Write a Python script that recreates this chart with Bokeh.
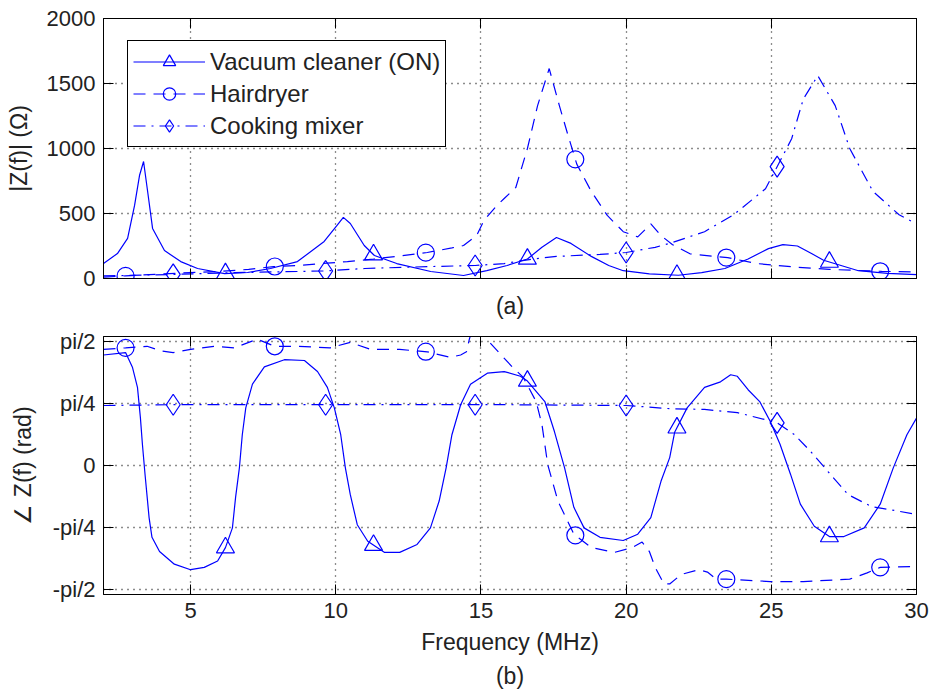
import numpy as np
from bokeh.plotting import figure
from bokeh.models import Range1d, LinearAxis, FixedTicker, Legend, LegendItem, Title
from bokeh.layouts import column
from bokeh.embed import file_html
from bokeh.resources import INLINE

# ---------------- data ----------------
series_names = ["Vacuum cleaner (ON)", "Hairdryer", "Cooking mixer"]
x_ticks = [5, 10, 15, 20, 25, 30]
mag_ticks = [0, 500, 1000, 1500, 2000]
phase_ticks = [-np.pi / 2, -np.pi / 4, 0.0, np.pi / 4, np.pi / 2]
phase_tick_labels = ["-pi/2", "-pi/4", "0", "pi/4", "pi/2"]

# |Z(f)| (ohm)
vac_mag_f = [2.0, 2.48, 2.83, 3.07, 3.24, 3.38, 3.52, 3.69, 4.1, 4.66,
             5.24, 6.17, 6.96, 7.75, 8.68, 9.6, 10.05, 10.26, 10.5, 10.98,
             11.33, 12.1, 13.27, 14.4, 15.2, 15.9, 16.6, 17.1, 17.6, 18.1,
             18.8, 19.4, 19.9, 20.8, 21.8, 22.6, 23.4, 24.2, 24.9, 25.4,
             25.9, 26.4, 26.8, 27.4, 28.0, 29.0, 30.0]
vac_mag = [115, 192, 308, 562, 792, 900, 669, 385, 215, 130,
           77, 38, 46, 77, 130, 285, 410, 470, 423, 254,
           177, 115, 54, 23, 60, 100, 150, 240, 315, 270,
           170, 100, 60, 35, 25, 45, 77, 150, 230, 260,
           250, 190, 140, 100, 60, 40, 30]

hair_mag_f = [2.0, 2.76, 4.0, 5.0, 6.0, 7.0, 7.86, 8.7, 9.5, 10.4,
              11.3, 12.1, 13.15, 14.0, 14.4, 14.85, 15.1, 15.55, 15.8, 16.2,
              16.6, 16.95, 17.35, 17.7, 18.0, 18.3, 18.8, 19.35, 19.9, 20.4,
              20.85, 21.2, 21.6, 22.2, 23.5, 24.5, 25.7, 27.0, 28.8, 30.0]
hair_mag = [10, 20, 35, 45, 55, 70, 92, 100, 115, 130,
            150, 170, 200, 235, 254, 330, 446, 562, 615, 700,
            1000, 1330, 1615, 1330, 1100, 880, 670, 485, 360, 320,
            420, 330, 260, 190, 160, 115, 90, 70, 55, 50]

cook_mag_f = [2.0, 4.38, 6.5, 8.68, 9.65, 11.0, 13.27, 14.8, 15.8, 16.8,
              17.6, 19.1, 20.0, 21.0, 21.5, 22.7, 23.7, 24.8, 25.2, 25.7,
              26.1, 26.6, 27.2, 27.7, 28.5, 29.4, 30.0]
cook_mag = [20, 31, 45, 54, 58, 77, 92, 100, 115, 150,
            170, 185, 200, 240, 270, 360, 490, 690, 860, 1075,
            1380, 1560, 1330, 1000, 670, 490, 420]

# angle Z(f) (rad)
vac_ph_f = [2.0, 2.76, 3.0, 3.17, 3.27, 3.34, 3.43, 3.57, 3.67, 3.93,
            4.44, 5.0, 5.47, 5.93, 6.2, 6.44, 6.55, 6.68, 6.78, 6.9,
            7.13, 7.54, 8.23, 8.92, 9.37, 9.71, 9.95, 10.17, 10.33, 10.5,
            10.74, 11.1, 11.67, 12.2, 12.8, 13.26, 13.56, 13.8, 14.0, 14.3,
            14.64, 15.22, 15.8, 16.36, 16.6, 17.2, 17.53, 17.88, 18.2, 18.55,
            19.1, 19.9, 20.4, 20.85, 21.2, 21.5, 21.67, 22.1, 22.7, 23.25,
            23.6, 23.83, 24.2, 24.6, 24.96, 25.3, 25.66, 26.0, 26.48, 27.0,
            27.5, 28.2, 28.75, 29.2, 29.67, 30.0]
vac_ph = [1.40, 1.43, 1.24, 0.99, 0.61, 0.27, -0.11, -0.66, -0.91, -1.09,
          -1.25, -1.32, -1.29, -1.21, -1.04, -0.79, -0.40, -0.03, 0.39, 0.73,
          1.03, 1.25, 1.34, 1.33, 1.19, 0.99, 0.73, 0.39, -0.03, -0.37,
          -0.75, -0.96, -1.10, -1.10, -1.00, -0.79, -0.45, -0.03, 0.39, 0.77,
          1.03, 1.17, 1.19, 1.13, 1.07, 0.81, 0.43, -0.03, -0.53, -0.79,
          -0.91, -0.95, -0.87, -0.66, -0.20, 0.10, 0.42, 0.73, 0.99, 1.06,
          1.15, 1.13, 0.96, 0.81, 0.56, 0.27, -0.11, -0.49, -0.77, -0.90,
          -0.90, -0.79, -0.49, -0.03, 0.39, 0.60]

hair_ph_f = [2.0, 2.76, 3.5, 4.0, 4.4, 5.0, 5.8, 6.5, 7.3, 7.9,
             8.7, 9.8, 10.5, 11.2, 12.2, 13.15, 13.95, 14.3, 14.5, 14.6,
             14.85, 15.2, 15.67, 16.1, 16.45, 16.9, 17.1, 17.3, 17.65, 18.2,
             18.8, 19.6, 20.2, 20.55, 20.8, 21.0, 21.3, 21.5, 21.9, 22.5,
             22.8, 23.1, 23.45, 24.96, 26.1, 27.7, 28.3, 28.75, 30.0]
hair_ph = [1.47, 1.49, 1.51, 1.45, 1.43, 1.47, 1.51, 1.49, 1.60, 1.51,
           1.51, 1.49, 1.56, 1.47, 1.47, 1.44, 1.37, 1.40, 1.44, 1.60,
           1.90, 1.60, 1.41, 1.24, 1.12, 0.81, 0.52, 0.01, -0.45, -0.87,
           -1.04, -1.10, -1.04, -0.97, -1.09, -1.29, -1.50, -1.50, -1.38, -1.32,
           -1.35, -1.44, -1.44, -1.47, -1.47, -1.44, -1.36, -1.29, -1.28]

cook_ph_f = [2.0, 4.4, 8.0, 12.0, 16.0, 20.0, 20.4, 21.5, 22.7, 23.83,
             24.8, 25.2, 25.8, 26.35, 26.96, 27.65, 28.45, 29.1, 30.0]
cook_ph = [0.76, 0.77, 0.77, 0.77, 0.77, 0.76, 0.75, 0.72, 0.71, 0.67,
           0.58, 0.54, 0.39, 0.18, -0.08, -0.37, -0.52, -0.56, -0.62]

# marker frequencies (MATLAB draws markers at sparse samples)
vac_marker_f = [6.2, 11.3, 16.6, 21.75, 27.0]
hair_marker_f = [2.76, 7.9, 13.1, 18.25, 23.45, 28.75]
cook_marker_f = [4.4, 9.65, 14.8, 20.0, 25.2]

# ---------------- styling ----------------
FONT = "Liberation Sans"
TICK_FS = "22px"
LABEL_FS = "23px"
TXT = "#222222"
BLUE = "#0000ff"
LW = 1.2
STYLES = [
    dict(dash="solid", marker="triangle", size=18),
    dict(dash="12 8", marker="circle", size=17),
    dict(dash="12 6 2 6", marker="diamond", size=21),
]


def hide_labels(ax):
    ax.major_label_text_font_size = "1px"
    ax.major_label_text_color = None
    ax.major_label_standoff = 0


def make_fig(y0, y1, yticks, frame_h, ylabel, **borders):
    p = figure(frame_width=813, frame_height=frame_h,
               x_range=Range1d(2, 30), y_range=Range1d(y0, y1),
               output_backend="svg", toolbar_location=None, **borders)
    p.background_fill_color = "white"
    p.border_fill_color = "white"
    p.outline_line_color = "black"
    p.outline_line_width = 1
    p.outline_line_alpha = 1
    xb = p.below[0]
    yl = p.left[0]
    xb.ticker = FixedTicker(ticks=x_ticks)
    yl.ticker = FixedTicker(ticks=yticks)
    for ax in (xb, yl):
        ax.axis_line_color = "black"
        ax.major_tick_line_color = "black"
        ax.major_tick_in = 10
        ax.major_tick_out = 0
        ax.minor_tick_line_color = None
        ax.major_label_text_font = FONT
        ax.major_label_text_font_size = TICK_FS
        ax.major_label_text_color = TXT
        ax.axis_label_text_font = FONT
        ax.axis_label_text_font_size = LABEL_FS
        ax.axis_label_text_font_style = "normal"
        ax.axis_label_text_color = TXT
    yl.axis_label = ylabel
    yl.major_label_standoff = 8
    for g in (p.xgrid, p.ygrid):
        g.grid_line_color = "black"
        g.grid_line_dash = "1 5"
        g.grid_line_width = 1.3
        g.grid_line_alpha = 0.9
    p.xgrid.ticker = FixedTicker(ticks=x_ticks)
    p.ygrid.ticker = FixedTicker(ticks=yticks)
    for side, tk in (("above", x_ticks), ("right", yticks)):
        ax = LinearAxis(ticker=FixedTicker(ticks=tk))
        hide_labels(ax)
        ax.major_tick_in = 10
        ax.major_tick_out = 0
        ax.minor_tick_line_color = None
        ax.axis_line_color = "black"
        p.add_layout(ax, side)
    return p, xb, yl


def draw(p, fx, fy, mx, st):
    r_line = p.line(fx, fy, line_color=BLUE, line_width=LW, line_dash=st["dash"])
    my = np.interp(mx, fx, fy)
    r_mk = p.scatter(mx, my, marker=st["marker"], size=st["size"],
                     line_color=BLUE, line_width=LW, fill_color=None)
    return [r_line, r_mk]


# ---------------- top: magnitude ----------------
p1, xb1, yl1 = make_fig(0, 2000, mag_ticks, 260, "|Z(f)| (Ω)",
                        min_border_left=103, min_border_right=14,
                        min_border_top=18, min_border_bottom=46)
hide_labels(xb1)
xb1.axis_label = "(a)"
xb1.axis_label_standoff = 14
yl1.axis_label_standoff = 12

mag_sets = [(vac_mag_f, vac_mag, vac_marker_f),
            (hair_mag_f, hair_mag, hair_marker_f),
            (cook_mag_f, cook_mag, cook_marker_f)]
items = []
for (fx, fy, mx), st, name in zip(mag_sets, STYLES, series_names):
    rs = draw(p1, fx, fy, mx, st)
    items.append(LegendItem(label=name, renderers=rs))

legend = Legend(items=items, location=(24, 131))
legend.border_line_color = "black"
legend.border_line_width = 1
legend.border_line_alpha = 1
legend.background_fill_color = "white"
legend.background_fill_alpha = 1
legend.label_text_font = FONT
legend.label_text_font_size = "24px"
legend.label_text_color = TXT
legend.glyph_width = 72
legend.glyph_height = 31
legend.spacing = 1
legend.padding = 5
legend.margin = 0
legend.label_standoff = 5
p1.add_layout(legend, "center")

# ---------------- bottom: phase ----------------
p2, xb2, yl2 = make_fig(-1.634, 1.634, phase_ticks, 258, "∠ Z(f) (rad)",
                        min_border_left=103, min_border_right=14,
                        min_border_top=12, min_border_bottom=4)
yl2.major_label_overrides = {float(t): lab for t, lab in zip(phase_ticks, phase_tick_labels)}
yl2.axis_label_standoff = 14
xb2.axis_label = "Frequency (MHz)"
xb2.major_label_standoff = 8
xb2.axis_label_standoff = 8

ph_sets = [(vac_ph_f, vac_ph, vac_marker_f),
           (hair_ph_f, hair_ph, hair_marker_f),
           (cook_ph_f, cook_ph, cook_marker_f)]
for (fx, fy, mx), st in zip(ph_sets, STYLES):
    draw(p2, fx, fy, mx, st)

p2.add_layout(Title(text="(b)", align="center", text_font=FONT,
                    text_font_size=LABEL_FS, text_font_style="normal",
                    text_color=TXT, standoff=6), "below")

layout = column(p1, p2)
open("out.html", "w").write(file_html(layout, INLINE))
